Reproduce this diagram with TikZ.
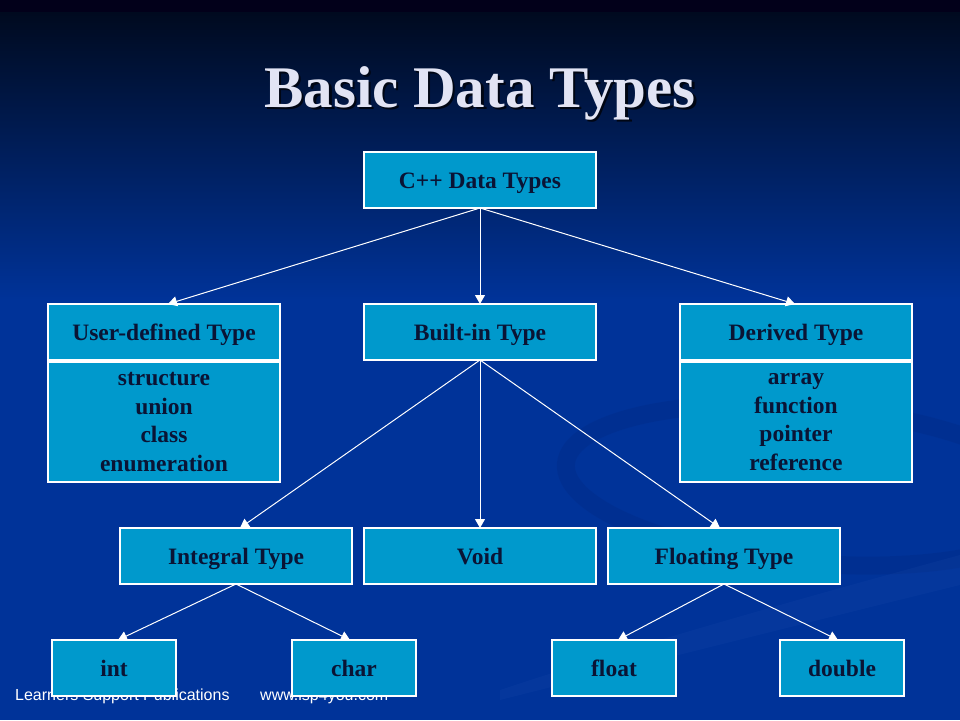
\documentclass[tikz,border=0pt]{standalone}
\usepackage{fontspec}
\setmainfont{Liberation Serif}
\newfontfamily\footfont{Liberation Sans}
\usetikzlibrary{arrows.meta}
\definecolor{boxfill}{HTML}{0099CC}
\definecolor{boxtext}{HTML}{0A1435}
\definecolor{bgblue}{HTML}{003399}
\definecolor{bgtop}{HTML}{000A1F}
\definecolor{bgmid}{HTML}{00226F}
\definecolor{bgstrip}{HTML}{02001A}
\definecolor{swooshdark}{HTML}{00287F}
\definecolor{swooshlight}{HTML}{2050B0}
\definecolor{titlecol}{HTML}{E2E4F4}
\definecolor{titleshade}{HTML}{000614}
\newcommand{\shadowtext}[1]{\makebox[0pt][l]{\kern2.5pt\raisebox{-2.5pt}{\color{titleshade}#1}}#1}
\begin{document}
\begin{tikzpicture}[x=1pt,y=-1pt,
  box/.style={draw=white,line width=1.2pt,fill=boxfill,minimum width=232pt,minimum height=56pt,
    inner sep=0pt,outer sep=0pt,font=\fontsize{23.5}{28.5}\selectfont\bfseries,text=boxtext,align=center,
    text height=18pt,text depth=2pt},
  smallbox/.style={box,minimum width=124pt},
  listbox/.style={box,minimum height=120pt,text height=,text depth=},
  arr/.style={draw=white,line width=1pt,-{Triangle[length=9pt,width=10pt]}},
  titlefont/.style={font=\fontsize{59}{60}\selectfont\bfseries},
  footstyle/.style={anchor=base west,inner sep=0pt,font=\footfont\fontsize{16}{18}\selectfont,text=white}]
% background
\useasboundingbox (0,0) rectangle (960,720);
\fill[bgstrip] (0,0) rectangle (960,12);
\shade[top color=bgtop,middle color=bgmid,bottom color=bgblue] (0,12) rectangle (960,300);
\fill[bgblue] (0,300) rectangle (960,720);
\begin{scope}
\clip (0,0) rectangle (960,720);
\draw[draw=swooshdark,line width=18pt,opacity=.28,rotate around={-5:(810,485)}] (810,485) ellipse [x radius=245pt,y radius=78pt];
\fill[swooshlight,opacity=.16] (500,690) .. controls (650,640) and (850,585) .. (960,555) -- (960,585) .. controls (850,612) and (650,662) .. (500,700) -- cycle;
\end{scope}
% footer
\node[footstyle] (foot1) at (15,700) {Learners Support Publications};
\node[footstyle] (foot2) at (260,700) {www.lsp4you.com};
% title
\node[titlefont,text=titlecol,anchor=base] (title) at (480,107) {\shadowtext{Basic Data Types}};
% boxes
\node[box] (cpp) at (480,180) {C++ Data Types};
\node[box] (user) at (164,332) {User-defined Type};
\node[listbox] (userlist) at (164,422) {structure\\union\\class\\enumeration};
\node[box] (builtin) at (480,332) {Built-in Type};
\node[box] (derived) at (796,332) {Derived Type};
\node[listbox] (derivedlist) at (796,422) {array\\function\\pointer\\reference};
\node[box] (integral) at (236,556) {Integral Type};
\node[box] (void) at (480,556) {Void};
\node[box] (floating) at (724,556) {Floating Type};
\node[smallbox] (int) at (114,668) {int};
\node[smallbox] (char) at (354,668) {char};
\node[smallbox] (float) at (614,668) {float};
\node[smallbox] (double) at (842,668) {double};
% connectors
\draw[arr] (cpp.south) -- ([xshift=4pt]user.north);
\draw[arr] (cpp.south) -- (builtin.north);
\draw[arr] (cpp.south) -- ([xshift=-1pt]derived.north);
\draw[arr] (builtin.south) -- ([xshift=4pt]integral.north);
\draw[arr] (builtin.south) -- (void.north);
\draw[arr] (builtin.south) -- ([xshift=-4pt]floating.north);
\draw[arr] (integral.south) -- ([xshift=4pt]int.north);
\draw[arr] (integral.south) -- ([xshift=-4pt]char.north);
\draw[arr] (floating.south) -- ([xshift=4pt]float.north);
\draw[arr] (floating.south) -- ([xshift=-4pt]double.north);
\end{tikzpicture}
\end{document}
